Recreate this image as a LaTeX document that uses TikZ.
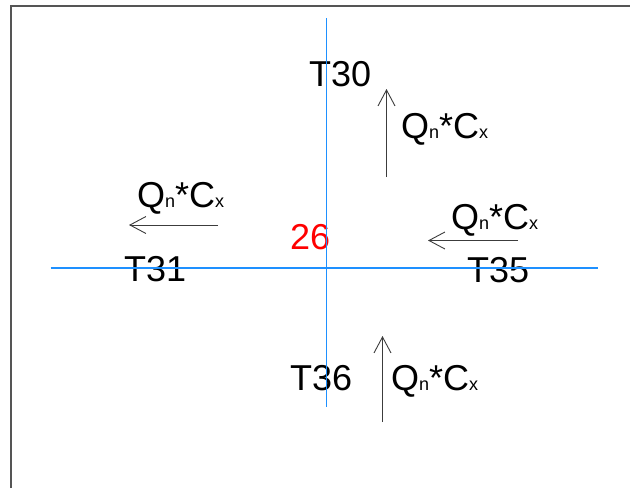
\documentclass[tikz,border=0pt]{standalone}
\usepackage{fontspec}
\setmainfont{Liberation Sans}
\usetikzlibrary{arrows.meta}
\definecolor{axisblue}{RGB}{30,144,255}
\definecolor{framegray}{RGB}{85,85,85}
\definecolor{arrowgray}{RGB}{60,60,60}
\newcommand{\qcflow}{Q{\fontsize{18}{18}\selectfont n}*C{\fontsize{18}{18}\selectfont x}}
\begin{document}
\begin{tikzpicture}[x=1pt,y=-1pt,
  lbl/.style={anchor=base west, inner sep=0pt, font=\fontsize{36}{36}\selectfont},
  axisline/.style={draw=axisblue, line width=1.3pt},
  flow/.style={draw=arrowgray, line width=0.9pt, -{Straight Barb[length=16pt,width=17pt]}},
  framestyle/.style={draw=framegray, line width=2pt}]
\useasboundingbox (0,0) rectangle (630,488);
\draw[framestyle] (10.5,488) -- (10.5,5.5) -- (630,5.5);
% labels
\node[lbl] (t30) at (309,86) {T30};
\node[lbl] (t31) at (124,281) {T31};
\node[lbl] (t35) at (467,282) {T35};
\node[lbl] (t36) at (290,390) {T36};
\node[lbl, text=red] (c26) at (290,249) {26};
\node[lbl] (qtop) at (401,138) {\qcflow};
\node[lbl] (qleft) at (137,207) {\qcflow};
\node[lbl] (qright) at (451,229) {\qcflow};
\node[lbl] (qbot) at (391,390) {\qcflow};
% arrows
\coordinate (a1s) at (386.5,177);
\coordinate (a1e) at (386.5,89);
\coordinate (a2s) at (218,225);
\coordinate (a2e) at (129,225);
\coordinate (a3s) at (518,240.5);
\coordinate (a3e) at (428,240.5);
\coordinate (a4s) at (382.5,422);
\coordinate (a4e) at (382.5,336);
\draw[flow] (a1s) -- (a1e);
\draw[flow] (a2s) -- (a2e);
\draw[flow] (a3s) -- (a3e);
\draw[flow] (a4s) -- (a4e);
% axes
\coordinate (vtop) at (326.5,18);
\coordinate (vbot) at (326.5,407);
\coordinate (hl) at (50.5,268);
\coordinate (hr) at (598,268);
\draw[axisline] (vtop) -- (vbot);
\draw[axisline] (hl) -- (hr);
\end{tikzpicture}
\end{document}
